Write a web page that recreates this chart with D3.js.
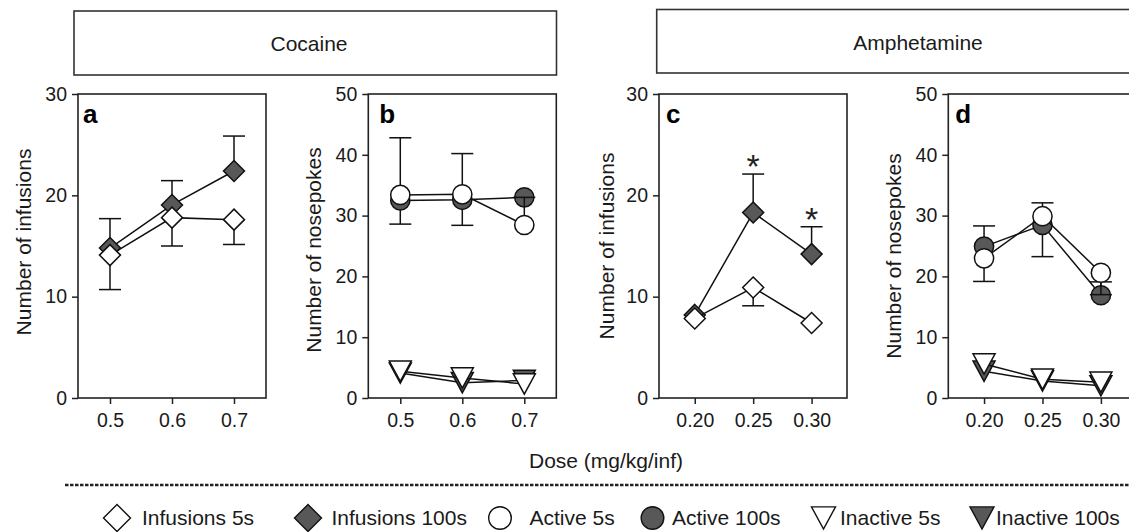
<!DOCTYPE html>
<html><head><meta charset="utf-8">
<script src="https://cdn.jsdelivr.net/npm/d3@7"></script>
<style>
body{margin:0;background:#fff;}
svg{display:block;font-family:"Liberation Sans",Arial,Helvetica,sans-serif;}
</style>
</head><body>
<svg id="chart" width="1129" height="532"></svg>
<script>
// ---------------- data ----------------
const cocaineDoses = [0.5, 0.6, 0.7];
const cocaineTickLabels = ["0.5", "0.6", "0.7"];
const amphDoses = [0.20, 0.25, 0.30];
const amphTickLabels = ["0.20", "0.25", "0.30"];
const infusionTicks = [0, 10, 20, 30];
const nosepokeTicks = [0, 10, 20, 30, 40, 50];

// panel a (cocaine infusions); error sign = direction drawn
const cocInf5 = [14.1, 17.8, 17.6];
const cocInf5Err = [-3.4, -2.8, -2.45];
const cocInf100 = [14.8, 19.05, 22.4];
const cocInf100Err = [2.9, 2.4, 3.45];

// panel b (cocaine nosepokes)
const cocActive5 = [33.4, 33.5, 28.45];
const cocActive5Err = [9.4, 6.7, 4.55];
const cocActive100 = [32.5, 32.6, 33.0];
const cocActive100Err = [-3.9, -4.2, 0];
const cocInactive5 = [4.4, 3.3, 2.3];
const cocInactive100 = [4.1, 2.5, 2.9];

// panel c (amphetamine infusions)
const amphInf5 = [7.85, 10.9, 7.4];
const amphInf5Err = [0, -1.8, 0];
const amphInf100 = [8.2, 18.3, 14.2];
const amphInf100Err = [0, 3.8, 2.7];
const amphSignificant = [false, true, true];

// panel d (amphetamine nosepokes)
const amphActive5 = [22.97, 29.9, 20.6];
const amphActive5Err = [-3.8, 2.2, -3.6];
const amphActive100 = [24.9, 28.45, 16.9];
const amphActive100Err = [3.4, -5.2, 2.2];
const amphInactive5 = [5.6, 3.1, 2.6];
const amphInactive100 = [4.4, 2.8, 2.0];

const legendLabels = ["Infusions 5s", "Infusions 100s", "Active 5s", "Active 100s", "Inactive 5s", "Inactive 100s"];

// ---------------- styling ----------------
const DARK = "#585858";
const INK = "#1a1a1a";
const PW = 188, TOP = 94, BOT = 398;

const diamondType = { draw(ctx, size) { const r = Math.sqrt(size); ctx.moveTo(0, -r); ctx.lineTo(r, 0); ctx.lineTo(0, r); ctx.lineTo(-r, 0); ctx.closePath(); } };
const circleType = { draw(ctx, size) { const r = Math.sqrt(size); ctx.moveTo(r, 0); ctx.arc(0, 0, r, 0, 2 * Math.PI); } };
const triType = { draw(ctx, size) { const w = Math.sqrt(size); const h = w * 1.85; ctx.moveTo(-w, -h / 2); ctx.lineTo(w, -h / 2); ctx.lineTo(0, h / 2); ctx.closePath(); } };

const shapes = {
  diamond: { type: diamondType, size: 10.5 * 10.5, lsize: 13.5 * 13.5 },
  circle: { type: circleType, size: 9.6 * 9.6, lsize: 11.3 * 11.3 },
  tri: { type: triType, size: 11 * 11, lsize: 12 * 12 }
};

const svg = d3.select("#chart");

// headers
const headers = [
  { text: "Cocaine", x0: 74, x1: 556.5, y0: 11, y1: 75, tx: 309, ty: 51 },
  { text: "Amphetamine", x0: 656.7, x1: 1140, y0: 9.5, y1: 73, tx: 918, ty: 50 }
];
headers.forEach(h => {
  svg.append("rect").attr("x", h.x0).attr("y", h.y0).attr("width", h.x1 - h.x0).attr("height", h.y1 - h.y0)
    .attr("fill", "none").attr("stroke", "#333").attr("stroke-width", 1.6);
  svg.append("text").attr("x", h.tx).attr("y", h.ty).attr("text-anchor", "middle")
    .attr("font-size", 21).attr("fill", INK).text(h.text);
});

const panels = [
  { letter: "a", x0: 78, dom: [0.4484, 0.7516], doses: cocaineDoses, tl: cocaineTickLabels, ymax: 30, yt: infusionTicks,
    ylabel: "Number of infusions", lx: 31, ly: 242, letterDx: 5,
    series: [
      { v: cocInf100, e: cocInf100Err, shape: "diamond", fill: DARK },
      { v: cocInf5, e: cocInf5Err, shape: "diamond", fill: "#fff" }
    ] },
  { letter: "b", x0: 368.3, dom: [0.4484, 0.7516], doses: cocaineDoses, tl: cocaineTickLabels, ymax: 50, yt: nosepokeTicks,
    ylabel: "Number of nosepokes", lx: 321, ly: 250, letterDx: 11,
    series: [
      { v: cocInactive100, e: null, shape: "tri", fill: DARK },
      { v: cocActive100, e: cocActive100Err, shape: "circle", fill: DARK },
      { v: cocInactive5, e: null, shape: "tri", fill: "#fff" },
      { v: cocActive5, e: cocActive5Err, shape: "circle", fill: "#fff" }
    ] },
  { letter: "c", x0: 659, dom: [0.1694, 0.3303], doses: amphDoses, tl: amphTickLabels, ymax: 30, yt: infusionTicks,
    ylabel: "Number of infusions", lx: 614, ly: 246, letterDx: 7, signif: amphSignificant,
    series: [
      { v: amphInf100, e: amphInf100Err, shape: "diamond", fill: DARK, star: true },
      { v: amphInf5, e: amphInf5Err, shape: "diamond", fill: "#fff" }
    ] },
  { letter: "d", x0: 948.3, dom: [0.1694, 0.3303], doses: amphDoses, tl: amphTickLabels, ymax: 50, yt: nosepokeTicks,
    ylabel: "Number of nosepokes", lx: 901, ly: 256, letterDx: 7,
    series: [
      { v: amphInactive100, e: null, shape: "tri", fill: DARK },
      { v: amphActive100, e: amphActive100Err, shape: "circle", fill: DARK },
      { v: amphInactive5, e: null, shape: "tri", fill: "#fff" },
      { v: amphActive5, e: amphActive5Err, shape: "circle", fill: "#fff" }
    ] }
];

panels.forEach(p => {
  const x = d3.scaleLinear().domain(p.dom).range([p.x0, p.x0 + PW]);
  const y = d3.scaleLinear().domain([0, p.ymax]).range([BOT, TOP]);
  const g = svg.append("g");

  // axes
  const ya = g.append("g").attr("transform", `translate(${p.x0},0)`)
    .call(d3.axisLeft(y).tickValues(p.yt).tickSize(6).tickPadding(5).tickFormat(d3.format("d")));
  const xa = g.append("g").attr("transform", `translate(0,${BOT})`)
    .call(d3.axisBottom(x).tickValues(p.doses).tickSize(6).tickPadding(9).tickFormat((d, i) => p.tl[i]));
  [ya, xa].forEach(a => {
    a.attr("font-size", null).attr("font-family", null);
    a.select(".domain").remove();
    a.selectAll("line").attr("stroke", "#222").attr("stroke-width", 1.5);
    a.selectAll("text").attr("font-size", 19.5).attr("fill", INK);
  });
  // frame
  g.append("rect").attr("x", p.x0).attr("y", TOP).attr("width", PW).attr("height", BOT - TOP)
    .attr("fill", "none").attr("stroke", "#222").attr("stroke-width", 1.6);

  // y label
  g.append("text").attr("transform", `translate(${p.lx},${p.ly}) rotate(-90)`)
    .attr("text-anchor", "middle").attr("font-size", 21).attr("fill", INK).text(p.ylabel);
  // panel letter
  g.append("text").attr("x", p.x0 + p.letterDx).attr("y", 123).attr("font-size", 26)
    .attr("font-weight", "bold").attr("fill", "#000").text(p.letter);

  const line = d3.line().x((d, i) => x(p.doses[i])).y(d => y(d));
  p.series.forEach(s => {
    // error bars
    if (s.e) {
      s.v.forEach((v, i) => {
        if (!s.e[i]) return;
        const cx = x(p.doses[i]), y1 = y(v + s.e[i]);
        g.append("line").attr("x1", cx).attr("x2", cx).attr("y1", y(v)).attr("y2", y1)
          .attr("stroke", "#111").attr("stroke-width", 1.5);
        g.append("line").attr("x1", cx - 11).attr("x2", cx + 11).attr("y1", y1).attr("y2", y1)
          .attr("stroke", "#111").attr("stroke-width", 1.5);
        if (s.star && p.signif && p.signif[i]) {
          g.append("text").attr("x", cx).attr("y", y1 - 13 + 17).attr("text-anchor", "middle")
            .attr("font-size", 34).attr("fill", "#222").text("*");
        }
      });
    }
    g.append("path").attr("d", line(s.v)).attr("fill", "none").attr("stroke", "#111").attr("stroke-width", 1.5);
    const sh = shapes[s.shape];
    g.selectAll(null).data(s.v).enter().append("path")
      .attr("transform", (d, i) => `translate(${x(p.doses[i])},${y(d)})`)
      .attr("d", d3.symbol().type(sh.type).size(sh.size))
      .attr("fill", s.fill).attr("stroke", "#111").attr("stroke-width", 1.5);
  });
});

// x axis title
svg.append("text").attr("x", 606).attr("y", 468).attr("text-anchor", "middle")
  .attr("font-size", 21).attr("fill", INK).text("Dose (mg/kg/inf)");

// dashed separator
svg.append("line").attr("x1", 65).attr("x2", 1129).attr("y1", 485).attr("y2", 485)
  .attr("stroke", "#222").attr("stroke-width", 2.5).attr("stroke-dasharray", "3.5,1.5");

// legend
const legendShapes = ["diamond", "diamond", "circle", "circle", "tri", "tri"];
const legendFills = ["#fff", DARK, "#fff", DARK, "#fff", DARK];
const legendMarkerX = [117, 308, 500, 652.5, 823.5, 982];
const legendTextX = [142, 331.5, 529.5, 672, 840, 996];
legendLabels.forEach((lab, i) => {
  const sh = shapes[legendShapes[i]];
  svg.append("path").attr("transform", `translate(${legendMarkerX[i]},518)`)
    .attr("d", d3.symbol().type(sh.type).size(sh.lsize))
    .attr("fill", legendFills[i]).attr("stroke", "#111").attr("stroke-width", 1.4);
  svg.append("text").attr("x", legendTextX[i]).attr("y", 525).attr("font-size", 21)
    .attr("fill", INK).text(lab);
});
</script>
</body></html>
